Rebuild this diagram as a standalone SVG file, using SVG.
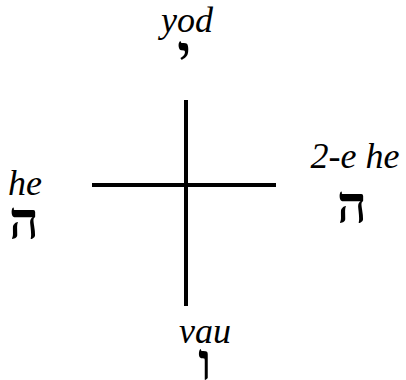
<svg xmlns="http://www.w3.org/2000/svg" width="406" height="380" viewBox="0 0 406 380">
<style>
.lbl{font-family:"Liberation Serif",serif;font-style:italic;font-size:36px;fill:#000}
.heb{font-family:"Liberation Serif","DejaVu Sans",serif;font-weight:bold;font-size:52px;fill:#000}
.ln{stroke:#000;stroke-width:4;fill:none}
</style>
<rect width="406" height="380" fill="#fff"/>
<g id="connectors">
<line class="ln" x1="186" y1="100" x2="186" y2="306"/>
<line class="ln" x1="92" y1="185" x2="276" y2="185"/>
</g>
<g id="top">
<text class="lbl" x="187" y="32" text-anchor="middle">yod</text>
<text class="heb" x="184" y="72" text-anchor="middle">י</text>
</g>
<g id="left">
<text class="lbl" x="8" y="195">he</text>
<text class="heb" x="24" y="239" text-anchor="middle">ה</text>
</g>
<g id="right">
<text class="lbl" x="355" y="168" text-anchor="middle">2-e he</text>
<text class="heb" x="352" y="223" text-anchor="middle">ה</text>
</g>
<g id="bottom">
<text class="lbl" x="205" y="343" text-anchor="middle">vau</text>
<text class="heb" x="205" y="380" text-anchor="middle">ו</text>
</g>
</svg>
